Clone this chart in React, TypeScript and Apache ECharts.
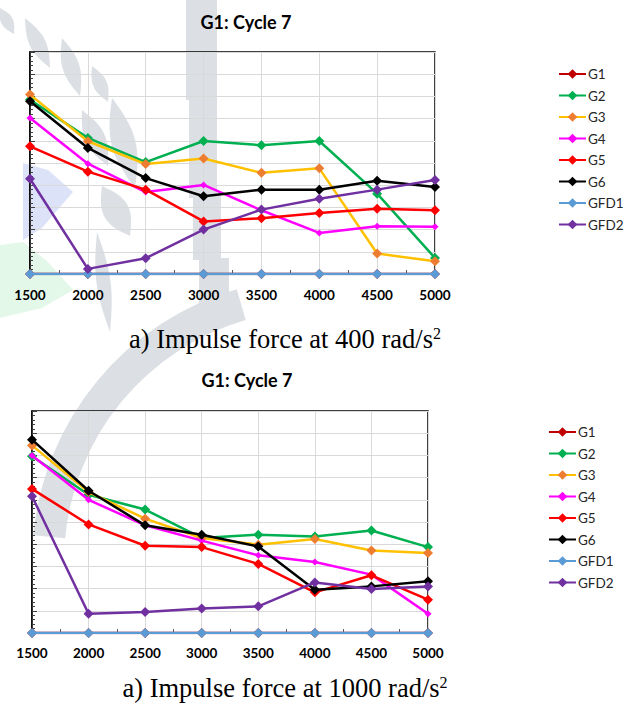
import React, { useEffect, useRef } from "react";
import * as echarts from "echarts";

const categories = [1500, 2000, 2500, 3000, 3500, 4000, 4500, 5000];
const seriesNames = ["G1", "G2", "G3", "G4", "G5", "G6", "GFD1", "GFD2"];
const chartTitle = "G1: Cycle 7";

// Chart a) 400 rad/s^2
const g1_400 = [0, 0, 0, 0, 0, 0, 0, 0];
const g2_400 = [7.85, 6.13, 5.04, 5.99, 5.8, 5.99, 3.62, 0.72];
const g3_400 = [8.08, 5.98, 4.95, 5.2, 4.56, 4.76, 0.92, 0.57];
const g4_400 = [7.03, 4.97, 3.69, 4.01, 2.87, 1.85, 2.15, 2.13];
const g5_400 = [5.75, 4.61, 3.8, 2.37, 2.51, 2.75, 2.94, 2.87];
const g6_400 = [7.78, 5.68, 4.32, 3.5, 3.8, 3.8, 4.2, 3.92];
const gfd1_400 = [0, 0, 0, 0, 0, 0, 0, 0];
const gfd2_400 = [4.29, 0.23, 0.71, 2.0, 2.9, 3.39, 3.8, 4.23];

// Chart b) 1000 rad/s^2
const g1_1000 = [0, 0, 0, 0, 0, 0, 0, 0];
const g2_1000 = [7.96, 6.23, 5.56, 4.28, 4.43, 4.35, 4.62, 3.87];
const g3_1000 = [8.45, 6.35, 5.15, 4.28, 3.98, 4.23, 3.72, 3.6];
const g4_1000 = [8.0, 6.0, 4.85, 4.16, 3.5, 3.2, 2.63, 0.87];
const g5_1000 = [6.49, 4.89, 3.93, 3.87, 3.11, 1.83, 2.6, 1.5];
const g6_1000 = [8.71, 6.41, 4.85, 4.43, 3.9, 1.95, 2.1, 2.33];
const gfd1_1000 = [0, 0, 0, 0, 0, 0, 0, 0];
const gfd2_1000 = [6.16, 0.87, 0.95, 1.1, 1.2, 2.28, 1.98, 2.1];

const caption400 = "a) Impulse force at 400 rad/s";
const caption1000 = "a) Impulse force at 1000 rad/s";

const lineColors = ["#C00000", "#00B050", "#FFC000", "#FF00FF", "#FF0000", "#000000", "#5B9BD5", "#7030A0"];
const markerColors = ["#C00000", "#00B050", "#ED7D31", "#FF00FF", "#FF0000", "#000000", "#5B9BD5", "#7030A0"];
const markerSizes = [10, 10, 10, 7, 10, 10, 10, 10];

const FONT = "Lato, 'Open Sans', sans-serif";
const SERIF = "'Liberation Serif', 'Times New Roman', serif";
const WM = "#DCE0E5";

function buildSeries(sets: number[][], idx: number) {
  return sets.map((vals, i) => ({
    name: seriesNames[i],
    type: "line",
    xAxisIndex: idx,
    yAxisIndex: idx,
    data: vals.map((v, j) => [categories[j], v]),
    symbol: "diamond",
    symbolSize: markerSizes[i],
    lineStyle: { color: lineColors[i], width: 2.5 },
    itemStyle: { color: markerColors[i] },
    z: 3 + i * 0.01,
  }));
}

function xAxis(gridIndex: number, margin: number) {
  return {
    type: "value",
    gridIndex,
    min: 1500,
    max: 5000,
    interval: 500,
    axisLine: { show: true, lineStyle: { color: "#808080", width: 1 } },
    axisTick: { show: true, inside: true, length: 4, lineStyle: { color: "#595959" } },
    minorTick: { show: true, splitNumber: 2, length: 4, lineStyle: { color: "#595959" } },
    splitLine: { show: true, lineStyle: { color: "#D9D9D9", width: 1 } },
    axisLabel: {
      color: "#000",
      fontFamily: FONT,
      fontWeight: "bold",
      fontSize: 13.5,
      margin,
      formatter: (v: number) => String(v),
    },
  };
}

function yAxis(gridIndex: number) {
  return {
    type: "value",
    gridIndex,
    min: 0,
    max: 10,
    interval: 1,
    axisLine: { show: true, lineStyle: { color: "#000", width: 1.5 } },
    axisTick: { show: true, inside: true, length: 5, lineStyle: { color: "#404040" } },
    minorTick: { show: true, splitNumber: 5, length: 3, lineStyle: { color: "#404040" } },
    splitLine: { show: true, lineStyle: { color: "#D9D9D9", width: 1 } },
    axisLabel: { show: false },
  };
}

function legend(left: number, top: number) {
  return {
    orient: "vertical",
    left,
    top,
    padding: 0,
    itemWidth: 27,
    itemHeight: 12,
    itemGap: 7.5,
    data: seriesNames,
    textStyle: { fontFamily: FONT, fontSize: 13.5, color: "#262626", padding: [0, 0, 0, -3] },
  };
}

// decorative watermark leaf: a lens shape between tip and base
function leaf(id: string, x1: number, y1: number, x2: number, y2: number, w: number) {
  const dx = x2 - x1;
  const dy = y2 - y1;
  const len = Math.sqrt(dx * dx + dy * dy);
  const nx = -dy / len;
  const ny = dx / len;
  const n = 16;
  const side1: number[][] = [];
  const side2: number[][] = [];
  for (let k = 0; k <= n; k++) {
    const t = k / n;
    const off = (w / 2) * Math.sin(Math.PI * t);
    const px = x1 + dx * t;
    const py = y1 + dy * t;
    side1.push([px + nx * off, py + ny * off]);
    side2.push([px - nx * off, py - ny * off]);
  }
  return {
    id,
    type: "polygon",
    z: -10,
    silent: true,
    shape: { points: [...side1, ...side2.reverse()] },
    style: { fill: WM },
  };
}

function stemRect(id: string, x: number, y: number, width: number, height: number) {
  return { id, type: "rect", z: -10, silent: true, shape: { x, y, width, height }, style: { fill: WM } };
}

const watermark = [
  stemRect("s1", 186, 0, 31, 100),
  stemRect("s2", 189, 98, 28, 100),
  stemRect("s3", 193, 196, 28, 64),
  stemRect("s4", 199, 258, 30, 66),
  {
    id: "wm-arc",
    type: "arc",
    z: -10,
    silent: true,
    shape: { cx: 316, cy: 562, r: 268, startAngle: Math.PI * 1.03, endAngle: Math.PI * 1.41, clockwise: true },
    style: { stroke: WM, lineWidth: 32, fill: null },
  },
  {
    id: "wm-blue",
    type: "polygon",
    z: -10,
    silent: true,
    shape: { points: [[23, 163], [48, 170], [73, 192], [42, 228], [23, 240]] },
    style: { fill: "#DCE2F8" },
  },
  {
    id: "wm-green",
    type: "polygon",
    z: -10,
    silent: true,
    shape: { points: [[0, 245], [23, 242], [48, 262], [73, 290], [42, 308], [0, 318]] },
    style: { fill: "#E4F8EA" },
  },
  leaf("l1", 25, 18, 50, 68, 16),
  leaf("l2", 62, 38, 80, 96, 17),
  leaf("l3", 92, 66, 108, 102, 14),
  leaf("l4", 112, 98, 135, 188, 24),
  leaf("l5", 82, 110, 108, 166, 20),
  leaf("l6", 102, 186, 130, 236, 26),
  leaf("l7", 97, 232, 110, 332, 14),
  leaf("l8", 0, 8, 14, 34, 12),
];

export default function App() {
  const ref = useRef<HTMLDivElement>(null);
  useEffect(() => {
    if (!ref.current) return;
    const chart = echarts.init(ref.current, null, { renderer: "svg" });
    const sets400 = [g1_400, g2_400, g3_400, g4_400, g5_400, g6_400, gfd1_400, gfd2_400];
    const sets1000 = [g1_1000, g2_1000, g3_1000, g4_1000, g5_1000, g6_1000, gfd1_1000, gfd2_1000];
    const captionStyle = (id: string, text: string, y: number) => ({
      id,
      type: "text",
      x: 285,
      y,
      z: 10,
      style: {
        text: text + "{sup|2}",
        fontFamily: SERIF,
        fontSize: 26.5,
        fill: "#000",
        align: "center",
        verticalAlign: "middle",
        rich: {
          sup: {
            fontFamily: SERIF,
            fontSize: 16,
            verticalAlign: "top",
            padding: [0, 0, 12, 0],
          },
        },
      },
    });
    chart.setOption({
      animation: false,
      backgroundColor: "#fff",
      title: [
        {
          text: chartTitle,
          left: 241,
          top: 8,
          textAlign: "center",
          textStyle: { fontFamily: FONT, fontWeight: "bold", fontSize: 18, color: "#000" },
        },
        {
          text: chartTitle,
          left: 242,
          top: 366,
          textAlign: "center",
          textStyle: { fontFamily: FONT, fontWeight: "bold", fontSize: 18, color: "#000" },
        },
      ],
      legend: [legend(558, 67), legend(548, 425)],
      grid: [
        { left: 30, right: 199, top: 52, bottom: 436, show: true, borderColor: "#000", borderWidth: 1.5, backgroundColor: "rgba(0,0,0,0)" },
        { left: 32, right: 206, top: 411, bottom: 77, show: true, borderColor: "#000", borderWidth: 1.5, backgroundColor: "rgba(0,0,0,0)" },
      ],
      xAxis: [xAxis(0, 14), xAxis(1, 13)],
      yAxis: [yAxis(0), yAxis(1)],
      series: [...buildSeries(sets400, 0), ...buildSeries(sets1000, 1)],
      graphic: {
        elements: [
          ...watermark,
          captionStyle("cap1", caption400, 339),
          captionStyle("cap2", caption1000, 688),
        ],
      },
    });
    return () => chart.dispose();
  }, []);
  return (
    <div
      ref={ref}
      style={{ position: "absolute", left: 0, top: 0, width: 634, height: 710 }}
    />
  );
}
